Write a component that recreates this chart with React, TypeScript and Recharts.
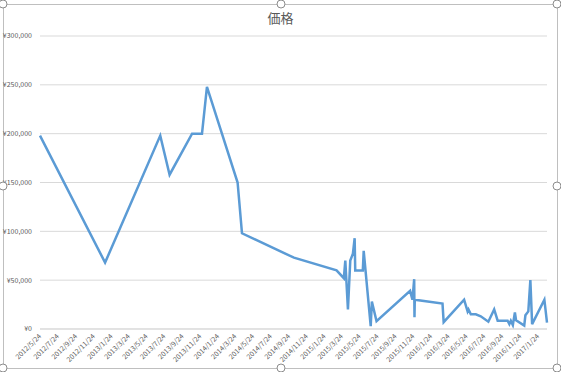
import React from 'react';
import { LineChart, Line, XAxis, YAxis, CartesianGrid } from 'recharts';

// purchase dates and prices
const dates = [
  '2012/5/24', '2013/1/2', '2013/7/10', '2013/8/11', '2013/10/27', '2013/11/30',
  '2013/12/17', '2014/4/1', '2014/4/16', '2014/10/11', '2015/3/6', '2015/3/31',
  '2015/4/5', '2015/4/14', '2015/4/22', '2015/5/1', '2015/5/7', '2015/5/9',
  '2015/6/4', '2015/6/7', '2015/7/1', '2015/7/5', '2015/7/21', '2015/11/13',
  '2015/11/21', '2015/11/27', '2015/11/28', '2015/11/29', '2016/3/3', '2016/3/7',
  '2016/5/16', '2016/5/28', '2016/5/31', '2016/6/8', '2016/6/25', '2016/7/12',
  '2016/8/7', '2016/8/27', '2016/9/8', '2016/10/12', '2016/10/18', '2016/10/23',
  '2016/10/30', '2016/11/6', '2016/11/10', '2016/12/8', '2016/12/12', '2016/12/22',
  '2016/12/29', '2017/1/4', '2017/2/15', '2017/2/24',
];

const prices = [
  198000, 68000, 198000, 158000, 200000, 200000,
  248000, 150000, 98000, 73000, 60000, 52000,
  70000, 20000, 70000, 77000, 93000, 60000,
  60000, 80000, 3000, 28000, 8000, 39000,
  30000, 51000, 12000, 30000, 26000, 7000,
  30000, 18000, 20000, 15000, 15000, 13000,
  7500, 20000, 8500, 8500, 5000, 8500,
  4000, 17000, 9000, 3500, 14000, 18000,
  50000, 5000, 30000, 6500,
];

const xTickLabels = [
  '2012/5/24', '2012/7/24', '2012/9/24', '2012/11/24', '2013/1/24', '2013/3/24',
  '2013/5/24', '2013/7/24', '2013/9/24', '2013/11/24', '2014/1/24', '2014/3/24',
  '2014/5/24', '2014/7/24', '2014/9/24', '2014/11/24', '2015/1/24', '2015/3/24',
  '2015/5/24', '2015/7/24', '2015/9/24', '2015/11/24', '2016/1/24', '2016/3/24',
  '2016/5/24', '2016/7/24', '2016/9/24', '2016/11/24', '2017/1/24',
];

const yTicks = [0, 50000, 100000, 150000, 200000, 250000, 300000];

const toTime = (s: string) => {
  const [y, m, d] = s.split('/').map(Number);
  return Date.UTC(y, m - 1, d);
};

const fmtDate = (t: number) => {
  const d = new Date(t);
  return `${d.getUTCFullYear()}/${d.getUTCMonth() + 1}/${d.getUTCDate()}`;
};

const fmtYen = (v: number) => '¥' + v.toLocaleString('en-US');

const data = dates.map((d, i) => ({ t: toTime(d), price: prices[i] }));

const FONT = '"Noto Sans CJK JP", "Noto Sans", sans-serif';
const TEXT = '#595959';

const DateTick = (props: any) => {
  const { x, y, payload } = props;
  return (
    <g transform={`translate(${x},${y})`}>
      <text
        x={0}
        y={0}
        dy="0.35em"
        textAnchor="end"
        transform="rotate(-45)"
        fontSize={7}
        fill={TEXT}
        fontFamily={FONT}
      >
        {fmtDate(payload.value)}
      </text>
    </g>
  );
};

// selection handles of the Excel chart frame
const handles = [
  [3, 4], [281, 4], [557, 4],
  [3, 186], [557, 186],
  [3, 368], [281, 368], [557, 368],
];

export default function App() {
  return (
    <div style={{ position: 'absolute', left: 0, top: 0, width: 561, height: 372, background: '#fff' }}>
      <div
        style={{
          position: 'absolute',
          left: 3,
          top: 4,
          width: 553,
          height: 363,
          border: '1px solid #bfbfbf',
        }}
      />
      <div
        style={{
          position: 'absolute',
          top: 8,
          left: 0,
          width: 561,
          textAlign: 'center',
          fontFamily: FONT,
          fontSize: 13,
          color: TEXT,
        }}
      >
        価格
      </div>
      <LineChart
        width={561}
        height={372}
        data={data}
        margin={{ top: 36, right: 14, bottom: 0, left: 0 }}
      >
        <CartesianGrid vertical={false} stroke="#d9d9d9" />
        <XAxis
          dataKey="t"
          type="number"
          scale="time"
          domain={['dataMin', 'dataMax']}
          ticks={xTickLabels.map(toTime)}
          interval={0}
          tick={<DateTick />}
          tickLine={false}
          tickSize={0}
          tickMargin={6}
          axisLine={{ stroke: '#d9d9d9' }}
          height={43}
        />
        <YAxis
          domain={[0, 300000]}
          ticks={yTicks}
          tickFormatter={fmtYen}
          axisLine={false}
          tickLine={false}
          tickSize={0}
          tickMargin={8}
          width={40}
          tick={{ fontSize: 7, fill: TEXT, fontFamily: FONT }}
        />
        <Line
          type="linear"
          dataKey="price"
          stroke="#5b9bd5"
          strokeWidth={2.5}
          dot={false}
          isAnimationActive={false}
        />
      </LineChart>
      <svg
        width={561}
        height={372}
        style={{ position: 'absolute', left: 0, top: 0, pointerEvents: 'none' }}
      >
        {handles.map(([cx, cy], i) => (
          <circle key={i} cx={cx} cy={cy} r={4} fill="#fff" stroke="#8c8c8c" strokeWidth={1} />
        ))}
      </svg>
    </div>
  );
}
